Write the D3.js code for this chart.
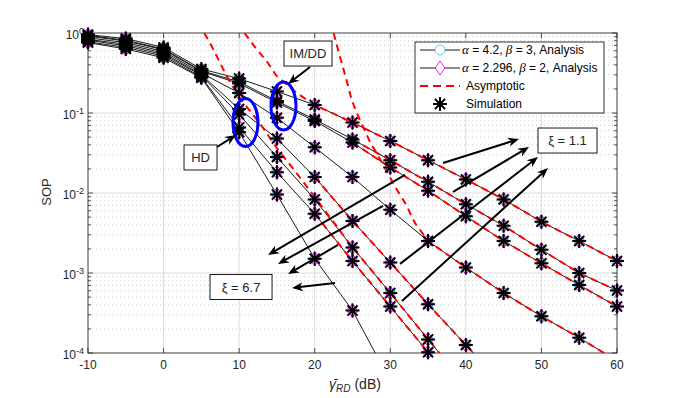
<!DOCTYPE html>
<html><head><meta charset="utf-8">
<script src="https://cdn.jsdelivr.net/npm/d3@7"></script>
<style>
body{margin:0;background:#fff;}
svg text{font-family:"Liberation Sans",Arial,sans-serif;}
</style>
</head><body>
<svg id="c" width="682" height="398"></svg>
<script>
// ---------------- DATA ----------------
const snrDb = [-10,-5,0,5,10,15,20,25,30,35,40,45,50,55,60];
const xTicks = [-10,0,10,20,30,40,50,60];
const yTicks = [1,1e-1,1e-2,1e-3,1e-4];
const yTickExp = ["0","-1","-2","-3","-4"];

// analysis / simulation curves (SOP values at snrDb)
const curveA = [0.955,0.851,0.661,0.355,0.269,0.186,0.126,0.0759,0.0447,0.0257,0.0148,0.00832,0.00437,0.00251,0.00141];
const curveB = [0.933,0.813,0.631,0.339,0.245,0.141,0.0832,0.0468,0.0257,0.0138,0.00724,0.00389,0.00195,0.001,0.000603];
const curveC = [0.912,0.794,0.617,0.331,0.234,0.135,0.0794,0.0427,0.0209,0.0107,0.00513,0.00251,0.00132,0.000708,0.00038];
const curveD = [0.871,0.759,0.589,0.316,0.178,0.0871,0.0372,0.0158,0.00617,0.00251,0.00117,0.000562,0.000288,0.000155,0.0000794];
const curveE = [0.832,0.724,0.562,0.302,0.112,0.0479,0.0158,0.00447,0.00135,0.000407,0.000126,0.0000398];
const curveF = [0.813,0.692,0.537,0.295,0.0955,0.0282,0.00832,0.00209,0.000562,0.000148,0.0000398];
const curveG = [0.776,0.661,0.513,0.282,0.0661,0.0182,0.0055,0.00141,0.00038,0.000102,0.0000282];
const curveH = [0.759,0.631,0.49,0.275,0.0575,0.00955,0.00151,0.000339,0.0000447];

// asymptotic curves
const asyA_x = [10.7,12.2,13.7,14.9,17.6,20,25,30,35,40,45,50,55,60];
const asyA_y = [1,0.646,0.437,0.295,0.178,0.126,0.0759,0.0447,0.0257,0.0148,0.00832,0.00437,0.00251,0.00141];
const asyB_x = [25,30,35,40,45,50,55,60];
const asyB_y = [0.0468,0.0257,0.0138,0.00724,0.00389,0.00195,0.001,0.000603];
const asyC_x = [25,30,35,40,45,50,55,60];
const asyC_y = [0.0427,0.0209,0.0107,0.00513,0.00251,0.00132,0.000708,0.00038];
const asyD_x = [22.5,23.2,24.1,24.9,25.8,27.4,28.2,30.7,32,33.3,35,40,45,50,55,60];
const asyD_y = [1,0.562,0.282,0.145,0.0891,0.0417,0.0316,0.0117,0.00741,0.00417,0.00251,0.00117,0.000562,0.000288,0.000155,0.0000794];
const asyE_x = [20,25,30,35,40,45];
const asyE_y = [0.0158,0.00447,0.00135,0.000407,0.000126,0.0000398];
const asyF_x = [5.4,6.5,7.4,8.3,10,12.9,15,17.5,20,25,30,35,40];
const asyF_y = [1,0.646,0.437,0.295,0.158,0.0708,0.0363,0.0182,0.00891,0.00209,0.000562,0.000148,0.0000398];
const asyG_x = [20,25,30,35,40];
const asyG_y = [0.0055,0.00141,0.00038,0.000102,0.0000282];

// annotations (data coordinates)
const boxLabels = ["IM/DD","HD","\u03BE = 1.1","\u03BE = 6.7"];
const boxAt = [[19.11,0.554],[4.89,0.0278],[53.45,0.0453],[10.25,0.000668]];
const arrowFrom = [[19.38,0.376],[7.07,0.0376],
  [36.98,0.0237],[38.30,0.0103],[31.29,0.0013],[31.55,0.000447],
  [31.95,0.0168],[29.04,0.00688],[23.08,0.00224],[22.69,0.00075]];
const arrowTo = [[16.47,0.2304],[9.58,0.0531],
  [47.03,0.0473],[48.36,0.0376],[49.55,0.0282],[50.87,0.0205],
  [13.82,0.00168],[15.14,0.0013],[16.47,0.00097],[16.99,0.00065]];
const ellipseAt = [[10.84,0.076],[15.87,0.1223]];

// ---------------- DRAW ----------------
const svg = d3.select("#c");
const L=88,R=617,T=33,B=353;
const x = d3.scaleLinear().domain([-10,60]).range([L,R]);
const y = d3.scaleLog().domain([1e-4,1]).range([B,T]);
const txtCol = "#262626";

svg.append("rect").attr("width",682).attr("height",398).attr("fill","#fff");
svg.append("defs").append("clipPath").attr("id","clip")
  .append("rect").attr("x",L).attr("y",T).attr("width",R-L).attr("height",B-T);

// grid
const grid = svg.append("g");
const minor = [];
for (let e=-4;e<0;e++) for (let m=2;m<=9;m++) minor.push(m*Math.pow(10,e));
grid.selectAll(".mg").data(minor).join("line")
  .attr("x1",L).attr("x2",R).attr("y1",d=>y(d)).attr("y2",d=>y(d))
  .attr("stroke","#b8b8b8").attr("stroke-width",0.7).attr("stroke-dasharray","1,3");
grid.selectAll(".yg").data(yTicks).join("line")
  .attr("x1",L).attr("x2",R).attr("y1",d=>y(d)).attr("y2",d=>y(d))
  .attr("stroke","#dcdcdc").attr("stroke-width",1);
grid.selectAll(".xg").data(xTicks).join("line")
  .attr("y1",T).attr("y2",B).attr("x1",d=>x(d)).attr("x2",d=>x(d))
  .attr("stroke","#dcdcdc").attr("stroke-width",1);

// axes box and ticks
const ax = svg.append("g").attr("stroke","#262626");
ax.append("rect").attr("x",L).attr("y",T).attr("width",R-L).attr("height",B-T)
  .attr("fill","none").attr("stroke-width",0.8);
xTicks.forEach(t=>{
  ax.append("line").attr("x1",x(t)).attr("x2",x(t)).attr("y1",B).attr("y2",B-5).attr("stroke-width",0.8);
  ax.append("line").attr("x1",x(t)).attr("x2",x(t)).attr("y1",T).attr("y2",T+5).attr("stroke-width",0.8);
});
yTicks.forEach(t=>{
  ax.append("line").attr("x1",L).attr("x2",L+5).attr("y1",y(t)).attr("y2",y(t)).attr("stroke-width",0.8);
  ax.append("line").attr("x1",R).attr("x2",R-5).attr("y1",y(t)).attr("y2",y(t)).attr("stroke-width",0.8);
});
minor.forEach(t=>{
  ax.append("line").attr("x1",L).attr("x2",L+3).attr("y1",y(t)).attr("y2",y(t)).attr("stroke-width",0.8);
  ax.append("line").attr("x1",R).attr("x2",R-3).attr("y1",y(t)).attr("y2",y(t)).attr("stroke-width",0.8);
});
svg.selectAll(".xl").data(xTicks).join("text")
  .attr("x",d=>x(d)).attr("y",369).attr("text-anchor","middle")
  .attr("font-size",12).attr("fill",txtCol).text(d=>d);
yTicks.forEach((t,i)=>{
  const tx = svg.append("text").attr("x",84).attr("y",y(t)+6).attr("text-anchor","end")
    .attr("font-size",12).attr("fill",txtCol);
  tx.append("tspan").text("10");
  tx.append("tspan").attr("dy",-5).attr("font-size",9).text(yTickExp[i]);
});
svg.append("text").attr("transform","translate(51,192) rotate(-90)").attr("text-anchor","middle")
  .attr("font-size",13).attr("fill",txtCol).text("SOP");
const xl = svg.append("text").attr("x",355).attr("y",389).attr("text-anchor","middle")
  .attr("font-size",14).attr("fill",txtCol).attr("font-family","Liberation Serif, serif");
xl.append("tspan").attr("font-style","italic").text("\u03B3\u0304");
xl.append("tspan").attr("font-style","italic").attr("font-size",10).attr("dy",3).text("RD");
xl.append("tspan").attr("dy",-3).text(" (dB)");

// plot area
const plot = svg.append("g").attr("clip-path","url(#clip)");
const curves = [curveA,curveB,curveC,curveD,curveE,curveF,curveG,curveH];
const lineGen = d3.line().x(d=>x(d[0])).y(d=>y(d[1]));
curves.forEach(c=>{
  const pts = c.map((v,i)=>[snrDb[i],v]);
  plot.append("path").attr("d",lineGen(pts)).attr("fill","none").attr("stroke","#000").attr("stroke-width",0.9);
});
const mk = svg.append("g");
function visible(v){return v>=0.85e-4;}
curves.forEach(c=>{
  c.forEach((v,i)=>{
    if(!visible(v)) return;
    const cx=x(snrDb[i]), cy=y(v);
    mk.append("circle").attr("cx",cx).attr("cy",cy).attr("r",5)
      .attr("fill","none").attr("stroke","#4DBEEE").attr("stroke-width",0.9);
    mk.append("path").attr("d",`M${cx},${cy-7}L${cx+4.8},${cy}L${cx},${cy+7}L${cx-4.8},${cy}Z`)
      .attr("fill","none").attr("stroke","#FF00FF").attr("stroke-width",0.9);
  });
});
// asymptotes
const asys = [[asyA_x,asyA_y],[asyB_x,asyB_y],[asyC_x,asyC_y],[asyD_x,asyD_y],[asyE_x,asyE_y],[asyF_x,asyF_y],[asyG_x,asyG_y]];
asys.forEach(([xs,ys])=>{
  const pts = xs.map((v,i)=>[v,ys[i]]);
  plot.append("path").attr("d",lineGen(pts)).attr("fill","none").attr("stroke","#FF0000")
    .attr("stroke-width",2).attr("stroke-dasharray","7,5");
});
// simulation stars
function star(g,cx,cy,s){
  const d = s*0.72;
  g.append("path").attr("d",`M${cx-s},${cy}L${cx+s},${cy}M${cx},${cy-s}L${cx},${cy+s}M${cx-d},${cy-d}L${cx+d},${cy+d}M${cx-d},${cy+d}L${cx+d},${cy-d}`)
    .attr("stroke","#000").attr("stroke-width",2).attr("fill","none");
}
const st = svg.append("g");
curves.forEach(c=>{
  c.forEach((v,i)=>{ if(visible(v)) star(st,x(snrDb[i]),y(v),7); });
});

// ellipses
ellipseAt.forEach(e=>{
  svg.append("ellipse").attr("cx",x(e[0])).attr("cy",y(e[1])).attr("rx",12.5).attr("ry",24)
    .attr("fill","none").attr("stroke","#0000FF").attr("stroke-width",3);
});

// arrows
function arrow(x1,y1,x2,y2){
  const a = Math.atan2(y2-y1,x2-x1), hl=11, hw=4.5;
  const bx = x2-hl*Math.cos(a), by = y2-hl*Math.sin(a);
  const nx = -Math.sin(a), ny = Math.cos(a);
  const nb = x2-hl*0.7*Math.cos(a), nby = y2-hl*0.7*Math.sin(a);
  svg.append("line").attr("x1",x1).attr("y1",y1).attr("x2",nb).attr("y2",nby)
    .attr("stroke","#000").attr("stroke-width",2);
  svg.append("path").attr("d",`M${x2},${y2}L${bx+nx*hw},${by+ny*hw}L${nb},${nby}L${bx-nx*hw},${by-ny*hw}Z`)
    .attr("fill","#000");
}
arrowFrom.forEach((f,i)=>{
  arrow(x(f[0]),y(f[1]),x(arrowTo[i][0]),y(arrowTo[i][1]));
});

// text boxes
const boxW = [48,33,59,62];
boxLabels.forEach((t,i)=>{
  const cx=x(boxAt[i][0]), cy=y(boxAt[i][1]);
  svg.append("rect").attr("x",cx-boxW[i]/2).attr("y",cy-12.5).attr("width",boxW[i]).attr("height",25)
    .attr("fill","#fff").attr("stroke","#000").attr("stroke-width",0.9);
  svg.append("text").attr("x",cx).attr("y",cy+4.5).attr("text-anchor","middle")
    .attr("font-size",13).attr("fill",txtCol).text(t);
});

// legend
const lg = svg.append("g");
lg.append("rect").attr("x",415).attr("y",42).attr("width",189).attr("height",71)
  .attr("fill","#fff").attr("stroke","#000").attr("stroke-width",0.8);
const rows=[50,68,86,104];
lg.append("line").attr("x1",420).attr("x2",460).attr("y1",rows[0]).attr("y2",rows[0]).attr("stroke","#000").attr("stroke-width",0.9);
lg.append("circle").attr("cx",440).attr("cy",rows[0]).attr("r",5).attr("fill","#fff").attr("stroke","#4DBEEE").attr("stroke-width",0.9);
lg.append("line").attr("x1",420).attr("x2",460).attr("y1",rows[1]).attr("y2",rows[1]).attr("stroke","#000").attr("stroke-width",0.9);
lg.append("path").attr("d",`M440,${rows[1]-7}L444.8,${rows[1]}L440,${rows[1]+7}L435.2,${rows[1]}Z`).attr("fill","#fff").attr("stroke","#FF00FF").attr("stroke-width",0.9);
lg.append("line").attr("x1",420).attr("x2",460).attr("y1",rows[2]).attr("y2",rows[2]).attr("stroke","#FF0000").attr("stroke-width",2).attr("stroke-dasharray","8,5");
star(lg,440,rows[3],7);
const legTxt = [
  [["\u03B1",1],[" = 4.2, ",0],["\u03B2",1],[" = 3, Analysis",0]],
  [["\u03B1",1],[" = 2.296, ",0],["\u03B2",1],[" = 2, Analysis",0]],
  [["Asymptotic",0]],
  [["Simulation",0]]
];
legTxt.forEach((parts,i)=>{
  const t = lg.append("text").attr("x",i<2?462:466).attr("y",rows[i]+4).attr("font-size",12).attr("fill","#000");
  parts.forEach(p=>{
    const ts=t.append("tspan").text(p[0]);
    if(p[1]) ts.attr("font-family","Liberation Serif, serif").attr("font-style","italic").attr("font-size",13);
  });
});
</script>
</body></html>
